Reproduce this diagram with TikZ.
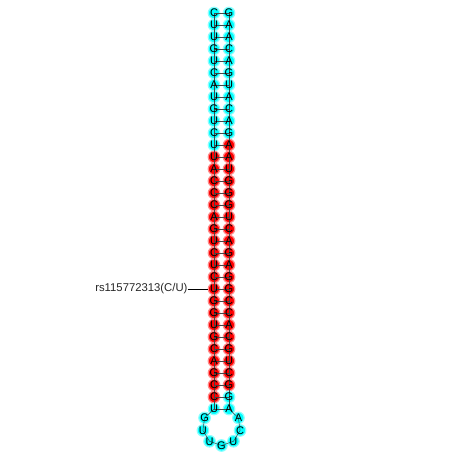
\documentclass[tikz,border=0pt]{standalone}
\usepackage{fontspec}
\setmainfont{Liberation Sans}
\usepackage{xcolor}
\usetikzlibrary{calc,positioning}
\definecolor{stemcyan}{RGB}{0,255,255}
\definecolor{maturered}{RGB}{255,0,0}
\definecolor{bbgray}{RGB}{70,70,70}
\newcommand{\armfive}{C,U,U,G,U,C,A,U,G,U,C,U,U,A,C,C,C,A,G,U,C,U,C,U,G,G,U,G,C,A,G,C,C,U}
\newcommand{\armthree}{G,A,A,C,A,G,U,A,C,A,G,A,A,U,G,G,G,U,C,A,G,A,G,G,C,C,A,C,G,U,C,G,G,A}
\newcommand{\hairpin}{G,U,U,G,U,C,A}

\begin{document}
\begin{tikzpicture}[x=1pt,y=-1pt,
    nt/.style={circle, inner sep=0pt, minimum size=11.5pt, line width=1.2pt},
    bb/.style={bbgray, line width=0.5pt},
    base/.style={font=\fontsize{11}{11}\selectfont, inner sep=0pt},
    snp/.style={font=\fontsize{11.3}{11.3}\selectfont, inner sep=0pt, text=black!85}]
    \useasboundingbox (0,0) rectangle (452,452);

    % Stem circles (5' arm left, 3' arm right)
    \foreach \b [count=\i] in \armfive {
        \ifnum\i<13 \def\c{stemcyan}\else\ifnum\i>33 \def\c{stemcyan}\else\def\c{maturered}\fi\fi
        \node[nt, fill=\c, draw=\c!45] (L\i) at (214,{13+12*(\i-1)}) {};
    }
    \foreach \b [count=\i] in \armthree {
        \ifnum\i<12 \def\c{stemcyan}\else\ifnum\i>32 \def\c{stemcyan}\else\def\c{maturered}\fi\fi
        \node[nt, fill=\c, draw=\c!45] (R\i) at (229,{13+12*(\i-1)}) {};
    }

    % Hairpin loop circles
    \coordinate (lc) at (221.5,426.5);
    \foreach \b [count=\k] in \hairpin {
        \node[nt, fill=stemcyan, draw=stemcyan!45] (P\k) at ($(lc)+({114+39*\k}:19pt)$) {};
    }

    % Backbone and base pairs
    \foreach \i in {1,...,33} {
        \pgfmathtruncatemacro\j{\i+1}
        \draw[bb] (L\i.center) -- (L\j.center);
        \draw[bb] (R\i.center) -- (R\j.center);
    }
    \foreach \i in {1,...,34} {
        \draw[bb] (L\i.center) -- (R\i.center);
    }
    \draw[bb] (L34.center) -- (P1.center) -- (P2.center) -- (P3.center) -- (P4.center)
        -- (P5.center) -- (P6.center) -- (P7.center) -- (R34.center);

    % Letters
    \foreach \b [count=\i] in \armfive { \node[base] at (L\i) {\b}; }
    \foreach \b [count=\i] in \armthree { \node[base] at (R\i) {\b}; }
    \foreach \b [count=\k] in \hairpin { \node[base] at (P\k) {\b}; }

    % SNP annotation
    \node[snp, left=20pt of L24] (rs) {rs115772313(C/U)};
    \draw[black, line width=0.5pt] (rs.east) -- (L24);
\end{tikzpicture}
\end{document}
